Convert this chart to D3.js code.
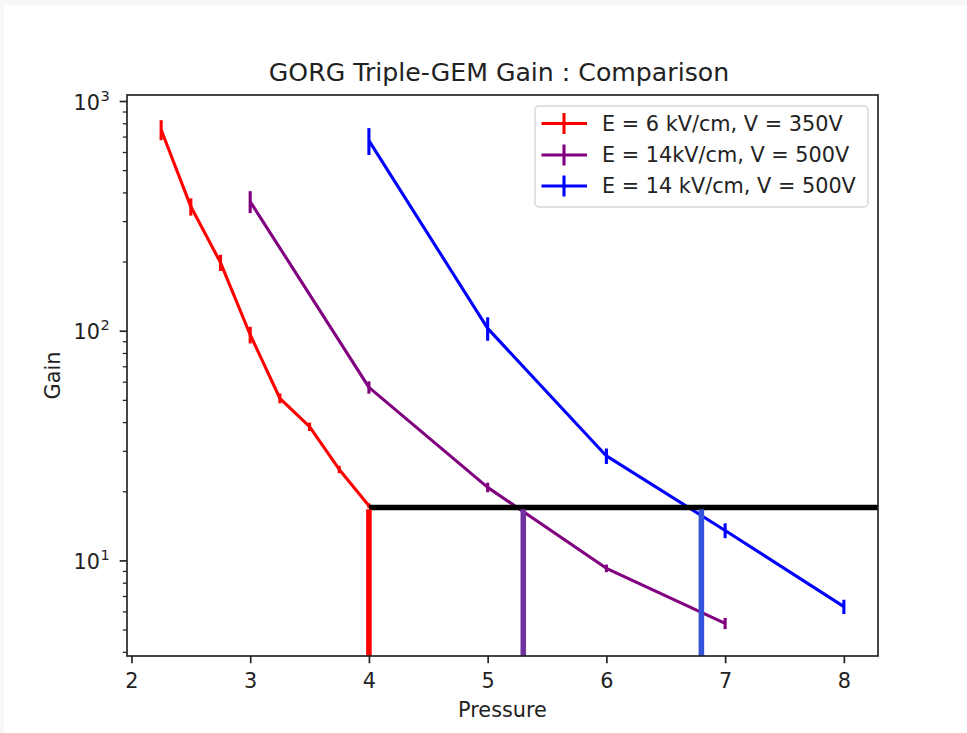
<!DOCTYPE html>
<html>
<head>
<meta charset="utf-8">
<script src="https://cdn.jsdelivr.net/npm/d3@7"></script>
<style>
  html, body { margin: 0; padding: 0; background: #ffffff; }
  svg { display: block; font-family: "DejaVu Sans", sans-serif; }
</style>
</head>
<body>
<svg id="chart" width="967" height="733"></svg>
<script>
// ---------------- data ----------------
const seriesNames = ["E = 6 kV/cm, V = 350V", "E = 14kV/cm, V = 500V", "E = 14 kV/cm, V = 500V"];
const seriesColors = ["#ff0000", "#800080", "#0000ff"];

const redX = [2.25, 2.5, 2.75, 3.0, 3.25, 3.5, 3.75, 4.0];
const redY = [750, 347, 198, 96, 50.8, 38.2, 24.9, 17.3];
const redErr = [75, 30, 16, 8, 2.5, 1.6, 0.9, 0.4];

const purpleX = [3, 4, 5, 6, 7];
const purpleY = [365, 56.7, 20.8, 9.24, 5.32];
const purpleErr = [40, 3.5, 1.0, 0.35, 0.3];

const blueX = [4, 5, 6, 7, 8];
const blueY = [672, 102.4, 28.5, 13.5, 6.29];
const blueErr = [90, 12, 2.2, 1.0, 0.45];

const thresholdGain = 17;
const thresholdStartX = 4;
const crossingX = [4.0, 5.3, 6.8];
const crossingTop = 16.7;
const crossingColors = ["#ff0000", "#7030a0", "#3552d8"];

const xTicks = [2, 3, 4, 5, 6, 7, 8];
const yMajorTicks = [10, 100, 1000];
const yMajorExp = ["1", "2", "3"];

const titleText = "GORG Triple-GEM Gain : Comparison";
const xLabel = "Pressure";
const yLabel = "Gain";

// ---------------- layout ----------------
const L = 127, R = 878, T = 95, B = 656;
const FS = 20.8;          // 10pt at ~150 dpi
const svg = d3.select("#chart");

// outer frame strips
svg.append("rect").attr("x", 0).attr("y", 0).attr("width", 967).attr("height", 5).attr("fill", "#f7f7f7");
svg.append("rect").attr("x", 0).attr("y", 0).attr("width", 4).attr("height", 733).attr("fill", "#f7f7f7");

const x = d3.scaleLinear().domain([1.9625, 8.2875]).range([L, R]);
const y = d3.scaleLog().domain([3.836, 1062]).range([B, T]);

const plot = svg.append("g");
svg.append("clipPath").attr("id", "clip").append("rect")
  .attr("x", L).attr("y", T).attr("width", R - L).attr("height", B - T);
const inner = plot.append("g").attr("clip-path", "url(#clip)");

// series
const series = [
  { xs: redX, ys: redY, es: redErr },
  { xs: purpleX, ys: purpleY, es: purpleErr },
  { xs: blueX, ys: blueY, es: blueErr }
];
const line = d3.line().x(d => x(d[0])).y(d => y(d[1]));
series.forEach((s, i) => {
  const pts = s.xs.map((v, k) => [v, s.ys[k], s.es[k]]);
  const g = inner.append("g");
  g.append("path").datum(pts).attr("d", line)
    .attr("fill", "none").attr("stroke", seriesColors[i]).attr("stroke-width", 3.1)
    .attr("stroke-linejoin", "round");
  g.selectAll("line.err").data(pts).join("line")
    .attr("x1", d => x(d[0])).attr("x2", d => x(d[0]))
    .attr("y1", d => y(d[1] - d[2])).attr("y2", d => y(d[1] + d[2]))
    .attr("stroke", seriesColors[i]).attr("stroke-width", 3.1);
});

// threshold line
inner.append("line")
  .attr("x1", x(thresholdStartX)).attr("x2", R + 2)
  .attr("y1", y(thresholdGain)).attr("y2", y(thresholdGain))
  .attr("stroke", "#000000").attr("stroke-width", 5.4);

// crossing verticals
crossingX.forEach((cx, i) => {
  inner.append("line")
    .attr("x1", x(cx)).attr("x2", x(cx))
    .attr("y1", B + 2).attr("y2", y(crossingTop))
    .attr("stroke", crossingColors[i]).attr("stroke-width", 5.56);
});

// axes frame
plot.append("rect").attr("x", L).attr("y", T).attr("width", R - L).attr("height", B - T)
  .attr("fill", "none").attr("stroke", "#222").attr("stroke-width", 1.67);

// x axis
const xAxis = d3.axisBottom(x).tickValues(xTicks).tickFormat(d3.format("d"))
  .tickSize(7.3).tickPadding(7.3);
const gx = svg.append("g").attr("transform", `translate(0,${B})`).call(xAxis);
gx.select(".domain").remove();
gx.selectAll(".tick line").attr("stroke", "#222").attr("stroke-width", 1.67);
gx.selectAll(".tick text").attr("font-family", "DejaVu Sans").attr("font-size", FS)
  .attr("fill", "#222").attr("y", 32).attr("dy", null);

// y axis: minor ticks
const minor = [];
for (let e = 0; e <= 3; e++) for (let m = 2; m <= 9; m++) {
  const v = m * Math.pow(10, e);
  if (v >= 3.836 && v <= 1062) minor.push(v);
}
const yMinorAxis = d3.axisLeft(y).tickValues(minor).tickFormat("").tickSize(4.2);
const gym = svg.append("g").attr("transform", `translate(${L},0)`).call(yMinorAxis);
gym.select(".domain").remove();
gym.selectAll(".tick line").attr("stroke", "#222").attr("stroke-width", 1.25);

const yMajorAxis = d3.axisLeft(y).tickValues(yMajorTicks).tickFormat("").tickSize(7.3);
const gy = svg.append("g").attr("transform", `translate(${L},0)`).call(yMajorAxis);
gy.select(".domain").remove();
gy.selectAll(".tick line").attr("stroke", "#222").attr("stroke-width", 1.67);
gy.selectAll(".tick").each(function(d) {
  d3.select(this).append("text")
    .attr("x", -27).attr("y", 8)
    .attr("text-anchor", "end").attr("fill", "#222")
    .attr("font-family", "DejaVu Sans").attr("font-size", FS)
    .text("10");
  d3.select(this).append("text")
    .attr("x", -26.5).attr("y", -1)
    .attr("text-anchor", "start").attr("fill", "#222")
    .attr("font-family", "DejaVu Sans").attr("font-size", FS * 0.7)
    .text(yMajorExp[yMajorTicks.indexOf(d)]);
});

// title and labels
svg.append("text").attr("x", 499).attr("y", 81).attr("text-anchor", "middle")
  .attr("font-size", 25.2).attr("fill", "#222").text(titleText);
svg.append("text").attr("x", (L + R) / 2).attr("y", 717).attr("text-anchor", "middle")
  .attr("font-size", FS).attr("fill", "#222").text(xLabel);
svg.append("text").attr("transform", `translate(60,${(T + B) / 2}) rotate(-90)`)
  .attr("text-anchor", "middle").attr("font-size", FS).attr("fill", "#222").text(yLabel);

// legend
const lg = svg.append("g");
lg.append("rect").attr("x", 535).attr("y", 106).attr("width", 333).attr("height", 101)
  .attr("rx", 4).attr("ry", 4)
  .attr("fill", "#ffffff").attr("fill-opacity", 0.8)
  .attr("stroke", "#d6d6d6").attr("stroke-width", 1.4);
const rowY = [123.5, 155, 186];
seriesNames.forEach((name, i) => {
  const ry = rowY[i];
  lg.append("line").attr("x1", 541.5).attr("x2", 587).attr("y1", ry).attr("y2", ry)
    .attr("stroke", seriesColors[i]).attr("stroke-width", 3.1);
  lg.append("line").attr("x1", 564).attr("x2", 564).attr("y1", ry - 10.5).attr("y2", ry + 10.5)
    .attr("stroke", seriesColors[i]).attr("stroke-width", 3.1);
  lg.append("text").attr("x", 602).attr("y", ry + 7.3).attr("font-size", FS)
    .attr("fill", "#222").text(name);
});
</script>
</body>
</html>
